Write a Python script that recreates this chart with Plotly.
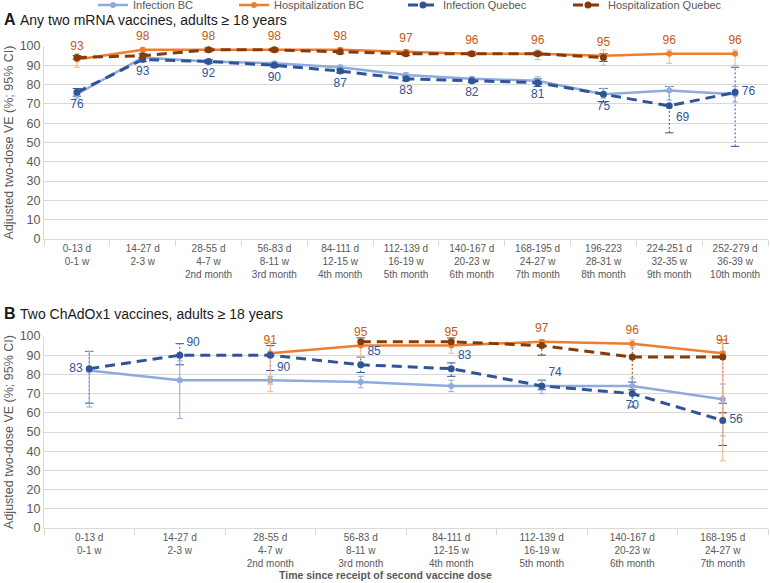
import plotly.graph_objects as go

# ---------------- data ----------------
cats_a = ["0-13 d<br>0-1 w", "14-27 d<br>2-3 w", "28-55 d<br>4-7 w<br>2nd month",
          "56-83 d<br>8-11 w<br>3rd month", "84-111 d<br>12-15 w<br>4th month",
          "112-139 d<br>16-19 w<br>5th month", "140-167 d<br>20-23 w<br>6th month",
          "168-195 d<br>24-27 w<br>7th month", "196-223<br>28-31 w<br>8th month",
          "224-251 d<br>32-35 w<br>9th month", "252-279 d<br>36-39 w<br>10th month"]
cats_b = cats_a[:8]

# Panel A: any two mRNA vaccines
inf_bc_a = [75, 94, 92, 91, 89, 85, 83, 82, 75, 77, 75]
inf_bc_a_lo = [73, 93, 91, 90, 88, 84, 82, 80, 73, 72, 71]
inf_bc_a_hi = [77, 95, 93, 92, 90, 86, 84, 84, 78, 79, 79]
hosp_bc_a = [93, 98, 98, 98, 98, 97, 96, 96, 95, 96, 96]
hosp_bc_a_lo = [89, 97, 97, 97, 96, 96, 95, 93, 90, 91, 90]
hosp_bc_a_hi = [96, 99, 99, 99, 99, 98, 97, 98, 98, 98, 98]
inf_qc_a = [76, 93, 92, 90, 87, 83, 82, 81, 75, 69, 76]
inf_qc_a_lo = [74, 92, 91, 89, 86, 82, 81, 79, 71, 55, 48]
inf_qc_a_hi = [78, 94, 93, 91, 88, 84, 83, 83, 78, 79, 89]
hosp_qc_a = [94, 95, 98, 98, 97, 96, 96, 96, 94, None, None]
hosp_qc_a_lo = [93, 94, 97, 97, 96, 95, 95, 95, 92, None, None]
hosp_qc_a_hi = [95, 96, 99, 99, 98, 97, 97, 97, 96, None, None]

# Panel B: two ChAdOx1 vaccines
inf_bc_b = [82, 77, 77, 76, 74, 74, 74, 67]
inf_bc_b_lo = [63, 57, 75, 73, 71, 70, 70, 48]
inf_bc_b_hi = [92, 87, 79, 79, 77, 77, 78, 75]
hosp_bc_b = [None, None, 91, 95, 95, 97, 96, 91]
hosp_bc_b_lo = [None, None, 71, 89, 91, 95, 94, 35]
hosp_bc_b_hi = [None, None, 97, 98, 98, 98, 98, 98]
inf_qc_b = [83, 90, 90, 85, 83, 74, 70, 56]
inf_qc_b_lo = [65, 85, 82, 81, 79, 72, 63, 43]
inf_qc_b_hi = [92, 96, 95, 89, 86, 77, 76, 65]
hosp_qc_b = [None, None, None, 97, 97, 95, 89, 89]
hosp_qc_b_lo = [None, None, None, 95, 95, 90, 72, 60]
hosp_qc_b_hi = [None, None, None, 99, 99, 97, 96, 98]

series_names = ["Infection BC", "Hospitalization BC", "Infection Quebec", "Hospitalization Quebec"]

# ---------------- styles ----------------
C_INF_BC = "#8FAADC"
C_HOSP_BC = "#ED7D31"
C_INF_QC = "#2F5597"
C_HOSP_QC = "#843C0C"
C_HOSP_BC_ERR = "#F4B183"
LBL_OR = "#C55A11"
LBL_BL = "#2F5597"
GRID = "#D9D9D9"
TXT = "#595959"
FONT = "Liberation Sans, Arial, sans-serif"

W, H = 770, 583
fig = go.Figure()


def err(v, lo, hi):
    plus = [None if a is None else h - a for a, h in zip(v, hi)]
    minus = [None if a is None else a - l for a, l in zip(v, lo)]
    return plus, minus


def dashed_ci(cats, v, lo, hi, color, xa, ya):
    xs, ys = [], []
    for c, a, l, h in zip(cats, v, lo, hi):
        if a is None:
            continue
        xs += [c, c, None]
        ys += [l, h, None]
    fig.add_trace(go.Scatter(x=xs, y=ys, mode="lines+markers", xaxis=xa, yaxis=ya,
                             line=dict(color=color, width=1, dash="2px,2px"),
                             marker=dict(symbol="line-ew-open", size=6,
                                         line=dict(color=color, width=1)),
                             showlegend=False, hoverinfo="skip"))


def panel(cats, ibc, ibc_lo, ibc_hi, hbc, hbc_lo, hbc_hi, iqc, iqc_lo, iqc_hi,
          hqc, hqc_lo, hqc_hi, xa, ya, legend, pos_or, pos_bl):
    dashed_ci(cats, iqc, iqc_lo, iqc_hi, C_INF_QC, xa, ya)
    dashed_ci(cats, hqc, hqc_lo, hqc_hi, C_HOSP_QC, xa, ya)
    p, m = err(ibc, ibc_lo, ibc_hi)
    fig.add_trace(go.Scatter(x=cats, y=ibc, name=series_names[0], mode="lines+markers",
                             xaxis=xa, yaxis=ya, showlegend=legend, legend="legend",
                             line=dict(color=C_INF_BC, width=2.5),
                             marker=dict(color=C_INF_BC, size=6),
                             error_y=dict(type="data", array=p, arrayminus=m,
                                          color=C_INF_BC, thickness=1, width=3)))
    p, m = err(hbc, hbc_lo, hbc_hi)
    fig.add_trace(go.Scatter(x=cats, y=hbc, name=series_names[1], mode="lines+markers",
                             xaxis=xa, yaxis=ya, showlegend=legend, legend="legend2",
                             line=dict(color=C_HOSP_BC, width=2.5),
                             marker=dict(color=C_HOSP_BC, size=6),
                             error_y=dict(type="data", array=p, arrayminus=m,
                                          color=C_HOSP_BC_ERR, thickness=1, width=3)))
    fig.add_trace(go.Scatter(x=cats, y=iqc, name=series_names[2], mode="lines+markers",
                             xaxis=xa, yaxis=ya, showlegend=legend, legend="legend3",
                             line=dict(color=C_INF_QC, width=3, dash="10px,6px"),
                             marker=dict(color=C_INF_QC, size=7)))
    fig.add_trace(go.Scatter(x=cats, y=hqc, name=series_names[3], mode="lines+markers",
                             xaxis=xa, yaxis=ya, showlegend=legend, legend="legend4",
                             line=dict(color=C_HOSP_QC, width=3, dash="10px,6px"),
                             marker=dict(color=C_HOSP_QC, size=7)))
    fig.add_trace(go.Scatter(x=cats, y=hbc, mode="markers+text", xaxis=xa, yaxis=ya,
                             text=[None if a is None else str(a) for a in hbc],
                             textposition=pos_or, cliponaxis=False,
                             textfont=dict(color=LBL_OR, size=12, family=FONT),
                             marker=dict(size=9, opacity=0), showlegend=False,
                             hoverinfo="skip"))
    fig.add_trace(go.Scatter(x=cats, y=iqc, mode="markers+text", xaxis=xa, yaxis=ya,
                             text=[str(a) for a in iqc], textposition=pos_bl,
                             cliponaxis=False,
                             textfont=dict(color=LBL_BL, size=12, family=FONT),
                             marker=dict(size=9, opacity=0), showlegend=False,
                             hoverinfo="skip"))


pos_or_a = ["top center"] * 11
pos_bl_a = ["bottom center"] * 9 + ["bottom right", "middle right"]
panel(cats_a, inf_bc_a, inf_bc_a_lo, inf_bc_a_hi, hosp_bc_a, hosp_bc_a_lo, hosp_bc_a_hi,
      inf_qc_a, inf_qc_a_lo, inf_qc_a_hi, hosp_qc_a, hosp_qc_a_lo, hosp_qc_a_hi,
      "x", "y", True, pos_or_a, pos_bl_a)

pos_or_b = ["top center"] * 8
pos_bl_b = ["middle left", "top right", "bottom right", "top right", "top right",
            "top right", "bottom center", "middle right"]
panel(cats_b, inf_bc_b, inf_bc_b_lo, inf_bc_b_hi, hosp_bc_b, hosp_bc_b_lo, hosp_bc_b_hi,
      inf_qc_b, inf_qc_b_lo, inf_qc_b_hi, hosp_qc_b, hosp_qc_b_lo, hosp_qc_b_hi,
      "x2", "y2", False, pos_or_b, pos_bl_b)

L, R = 44, 2


def ydom(top_px, bot_px):
    return [1 - bot_px / H, 1 - top_px / H]


xcommon = dict(type="category", showgrid=False, showline=True, linecolor=GRID,
               ticks="outside", tickson="boundaries", ticklen=6, tickcolor=GRID,
               tickfont=dict(size=10, color=TXT, family=FONT), domain=[0, 1],
               automargin=False)
ycommon = dict(range=[0, 100], dtick=10, showgrid=True, gridcolor=GRID, gridwidth=1,
               showline=True, linecolor=GRID, zeroline=False, ticks="",
               automargin=False,
               tickfont=dict(size=12.5, color=TXT, family=FONT),
               title=dict(text="Adjusted two-dose VE (%; 95% CI)",
                          font=dict(size=12.5, color=TXT, family=FONT), standoff=3))


def leg(xpx):
    return dict(orientation="h", xref="container", yref="container",
                x=xpx / W, y=1 - 5 / H, xanchor="left", yanchor="middle",
                font=dict(size=11, color=TXT, family=FONT),
                itemwidth=30, bgcolor="rgba(0,0,0,0)")


fig.update_layout(
    width=W, height=H,
    margin=dict(l=L, r=R, t=0, b=0, autoexpand=False),
    paper_bgcolor="white", plot_bgcolor="white",
    font=dict(family=FONT, color=TXT),
    xaxis=dict(**xcommon, anchor="y", range=[-0.5, 10.5]),
    yaxis=dict(**ycommon, domain=ydom(46, 239), anchor="x"),
    xaxis2=dict(**xcommon, anchor="y2", range=[-0.5, 7.5]),
    yaxis2=dict(**ycommon, domain=ydom(336, 528), anchor="x2"),
    legend=leg(93), legend2=leg(234), legend3=leg(403), legend4=leg(568),
    showlegend=True,
)

annos = [
    dict(text="<b>A</b>", x=2, y=19, size=16),
    dict(text="Any two mRNA vaccines, adults ≥ 18 years", x=18, y=20, size=14),
    dict(text="<b>B</b>", x=2, y=313, size=16),
    dict(text="Two ChAdOx1 vaccines, adults ≥ 18 years", x=18, y=314, size=14),
]
for a in annos:
    fig.add_annotation(text=a["text"], xref="paper", yref="paper",
                       x=(a["x"] - L) / (W - L - R), y=1 - a["y"] / H,
                       xanchor="left", yanchor="middle", showarrow=False,
                       font=dict(size=a["size"], color="#1a1a1a", family=FONT))
fig.add_annotation(text="<b>Time since receipt of second vaccine dose</b>", xref="paper",
                   yref="paper", x=(385 - L) / (W - L - R), y=1 - 575 / H, xanchor="center",
                   yanchor="middle", showarrow=False,
                   font=dict(size=10.5, color=TXT, family=FONT))

fig.write_html("out.html", config={"displayModeBar": False},
               post_script="document.body.style.margin='0';document.body.style.padding='0';")
